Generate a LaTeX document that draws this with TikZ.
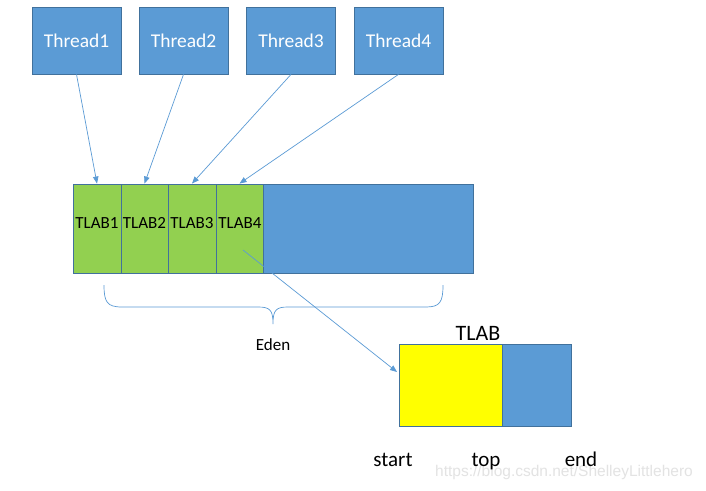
\documentclass[tikz,border=0pt]{standalone}
\usepackage{fontspec}
\setmainfont{Carlito}
\newfontfamily\wmfont{Liberation Sans}
\usetikzlibrary{arrows.meta,calc}
\definecolor{msblue}{HTML}{5B9BD5}
\definecolor{msborder}{HTML}{41719C}
\definecolor{msgreen}{HTML}{92D050}
\definecolor{msyellow}{HTML}{FFFF00}
\tikzset{
  threadbox/.style={draw=msborder, line width=0.8pt, fill=msblue, text=white, minimum width=89pt, minimum height=67pt, inner sep=0pt, font=\fontsize{19.5}{22}\selectfont},
  cell/.style={draw=msborder, line width=0.9pt, fill=msgreen, minimum height=89pt, inner sep=0pt},
  freecell/.style={draw=msborder, line width=0.9pt, fill=msblue, minimum height=89pt, inner sep=0pt},
  celltext/.style={inner sep=0pt, text height=12pt, text depth=0pt, font=\fontsize{17}{20}\selectfont},
  conn/.style={draw=msblue, line width=0.7pt, -{Triangle[length=7pt,width=5.5pt]}},
  bigtext/.style={font=\fontsize{21}{24}\selectfont, inner sep=0pt, text height=14pt, text depth=0pt},
}
\begin{document}
\begin{tikzpicture}[x=1pt,y=-1pt]
\useasboundingbox (0,0) rectangle (706,490);
\fill[white] (0,0) rectangle (706,490);
% threads
\node[threadbox] (t1) at (76.5,40.5) {Thread1};
\node[threadbox] (t2) at (183.5,40.5) {Thread2};
\node[threadbox] (t3) at (291,40.5) {Thread3};
\node[threadbox] (t4) at (398.5,40.5) {Thread4};
% eden
\node[cell, minimum width=48pt] (c1) at (97,228.5) {};
\node[cell, minimum width=47pt] (c2) at (144.5,228.5) {};
\node[cell, minimum width=48pt] (c3) at (192,228.5) {};
\node[cell, minimum width=47pt] (c4) at (239.5,228.5) {};
\node[freecell, minimum width=210pt] (free) at (368,228.5) {};
\node[celltext] (l1) at (97,222) {TLAB1};
\node[celltext] (l2) at (144.5,222) {TLAB2};
\node[celltext] (l3) at (192,222) {TLAB3};
\node[celltext] (l4) at (240,222) {TLAB4};
% arrows threads -> TLABs
\draw[conn] (t1.south) -- (c1.north);
\draw[conn] (t2.south) -- (c2.north);
\draw[conn] (t3.south) -- (c3.north);
\draw[conn] (t4.south) -- (c4.north);
% brace
\draw[msblue, line width=0.7pt] (104,285) .. controls (104,302) and (107,307) .. (122,307) -- (258,307) .. controls (270,307) and (273,310) .. (273,324)
  .. controls (273,310) and (276,307) .. (288,307) -- (426,307) .. controls (440,307) and (443,302) .. (443,285);
\node[inner sep=0pt, font=\fontsize{17}{20}\selectfont] (eden) at (273,345) {Eden};
% TLAB detail
\node[draw=msborder, line width=0.9pt, fill=msyellow, minimum width=103pt, minimum height=82pt, inner sep=0pt] (used) at (450.5,385.5) {};
\node[draw=msborder, line width=0.9pt, fill=msblue, minimum width=69pt, minimum height=82pt, inner sep=0pt] (rest) at (536.5,385.5) {};
\node[font=\fontsize{22}{25}\selectfont, inner sep=0pt] (tlab) at (478,333) {TLAB};
\coordinate (src) at (243,250);
\coordinate (dst) at (397,372);
\draw[conn] (src) -- (dst);
% watermark
\node[inner sep=0pt, text=gray!22, font=\wmfont\fontsize{15.5}{18}\selectfont] (wm) at (564,472) {https://blog.csdn.net/ShelleyLittlehero};
\node[bigtext] (start) at (393,459) {start};
\node[bigtext] (top) at (486,459) {top};
\node[bigtext] (end) at (581,459) {end};
\end{tikzpicture}
\end{document}
